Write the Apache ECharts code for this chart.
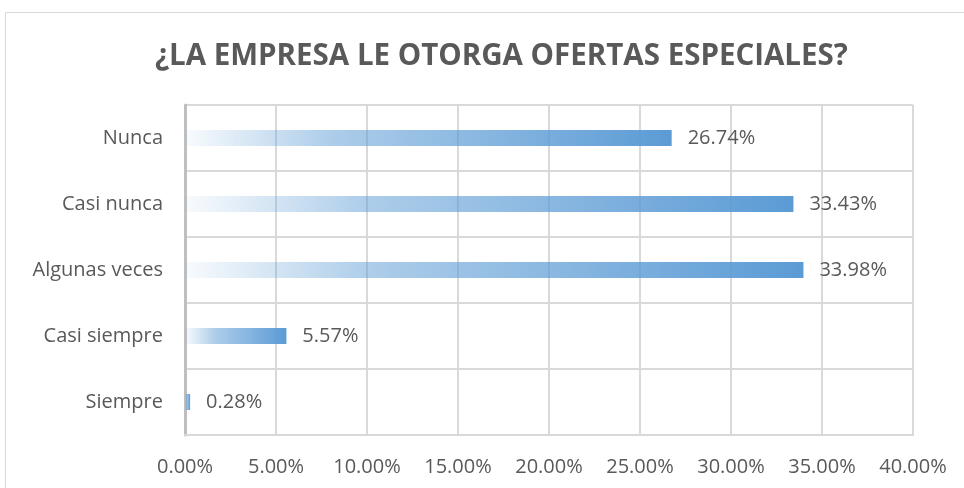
<!DOCTYPE html>
<html>
<head>
<meta charset="utf-8">
<script src="https://cdn.jsdelivr.net/npm/echarts@6/dist/echarts.min.js"></script>
<style>
  html, body { margin: 0; padding: 0; background: #fff; }
  #chart { width: 964px; height: 488px; }
</style>
</head>
<body>
<div id="chart"></div>
<script>
// categorias y porcentajes
var categorias = ['Nunca', 'Casi nunca', 'Algunas veces', 'Casi siempre', 'Siempre']
var valores = [26.74, 33.43, 33.98, 5.57, 0.28]
var ticks = [0, 5, 10, 15, 20, 25, 30, 35, 40]

var myChart = echarts.init(document.getElementById('chart'))
var gris = '#595959'
var fuente = '"Open Sans", "Noto Sans", sans-serif'

myChart.setOption({
    animation: false,
    graphic: [{
        type: 'rect',
        shape: { x: 5.5, y: 12.5, width: 980, height: 500 },
        style: { fill: 'none', stroke: '#D9D9D9', lineWidth: 1 }
    }],
    title: {
        text: '¿LA EMPRESA LE OTORGA OFERTAS ESPECIALES?',
        left: 150,
        top: 37,
        textStyle: {
            color: gris,
            fontFamily: fuente,
            fontWeight: 'bold',
            fontSize: 29.5
        }
    },
    grid: {
        left: 185,
        right: 51,
        top: 105,
        bottom: 53,
        containLabel: false
    },
    xAxis: {
        type: 'value',
        min: ticks[0],
        max: ticks[ticks.length - 1],
        interval: 5,
        axisLine: { show: true, lineStyle: { color: '#D9D9D9', width: 2 } },
        axisTick: { show: false },
        splitLine: { show: true, lineStyle: { color: '#D9D9D9', width: 2 } },
        axisLabel: {
            color: gris,
            fontFamily: fuente,
            fontSize: 20,
            margin: 22,
            formatter: function (v) { return v.toFixed(2) + '%' }
        }
    },
    yAxis: {
        type: 'category',
        data: categorias,
        inverse: true,
        axisLine: { show: true, lineStyle: { color: '#BFBFBF', width: 3 } },
        axisTick: { show: false },
        splitLine: { show: true, lineStyle: { color: '#D9D9D9', width: 2 } },
        axisLabel: {
            color: gris,
            fontFamily: fuente,
            fontSize: 20,
            margin: 22
        }
    },
    series: [{
        type: 'bar',
        data: valores,
        barWidth: 16,
        itemStyle: {
            color: new echarts.graphic.LinearGradient(0, 0, 1, 0, [
                { offset: 0, color: 'rgba(91,155,213,0.04)' },
                { offset: 0.3, color: 'rgba(91,155,213,0.5)' },
                { offset: 1, color: '#5B9BD5' }
            ])
        },
        label: {
            show: true,
            position: 'right',
            distance: 16,
            color: gris,
            fontFamily: fuente,
            fontSize: 20,
            formatter: function (p) { return p.value.toFixed(2) + '%' }
        }
    }]
})
</script>
</body>
</html>
